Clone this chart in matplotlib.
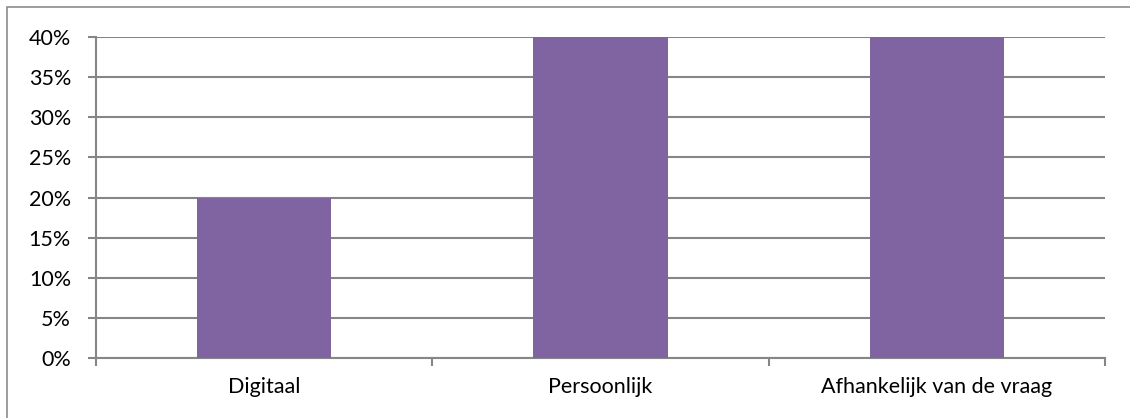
import matplotlib.pyplot as plt
from matplotlib.patches import Rectangle
from matplotlib.ticker import FuncFormatter

categories = ["Digitaal", "Persoonlijk", "Afhankelijk van de vraag"]
values = [0.20, 0.40, 0.40]
yticks = [0, 0.05, 0.10, 0.15, 0.20, 0.25, 0.30, 0.35, 0.40]

plt.rcParams['font.family'] = ['Lato', 'DejaVu Sans']

fig = plt.figure(figsize=(11.3, 4.18), dpi=100)
ax = fig.add_axes([96/1130, 60/418, (1105-96)/1130, (358-37)/418])

grid = '#868686'
x = range(len(categories))
ax.bar(x, values, width=0.4, color='#8064A2', zorder=3)

ax.set_xlim(-0.5, len(categories) - 0.5)
ax.set_ylim(0, 0.40)
ax.set_yticks(yticks)
ax.yaxis.set_major_formatter(FuncFormatter(lambda v, p: f"{round(v*100)}%"))
ax.yaxis.grid(True, color=grid, linewidth=1.5, zorder=0)

# category boundary ticks on the x axis
ax.set_xticks([-0.5, 0.5, 1.5, 2.5])
ax.set_xticklabels([])
ax.set_xticks(list(x), minor=True)
ax.set_xticklabels(categories, minor=True)
ax.tick_params(axis='x', which='major', length=6, width=1.5, color=grid, direction='out')
ax.tick_params(axis='x', which='minor', length=0, pad=14, labelsize=15.5)
ax.tick_params(axis='y', length=6, width=1.5, color=grid, labelsize=15.5, pad=12)

for s in ['top', 'right']:
    ax.spines[s].set_visible(False)
for s in ['left', 'bottom']:
    ax.spines[s].set_color(grid)
    ax.spines[s].set_linewidth(1.5)

# outer chart border (only left and top visible in the crop)
fig.patches.append(Rectangle((7/1130, -0.1), 1.2, (418-7)/418 + 0.1, transform=fig.transFigure,
                             fill=False, edgecolor='#8c8c8c', linewidth=1.2))

fig.savefig('out.png', dpi=100)
